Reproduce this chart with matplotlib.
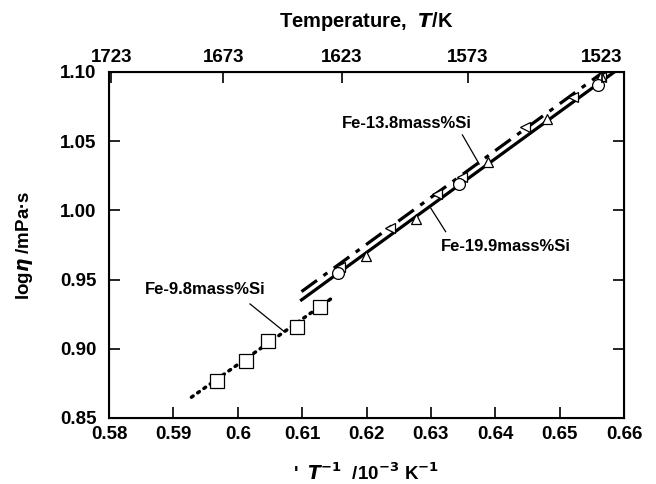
import numpy as np
import matplotlib.pyplot as plt

plt.rcParams['font.family'] = ['Liberation Sans', 'DejaVu Sans']
plt.rcParams['font.weight'] = 'bold'

# Fe-9.8mass%Si (squares, dotted fit)
x98 = [0.5967, 0.6013, 0.6047, 0.6092, 0.6128]
y98 = [0.877, 0.8914, 0.9057, 0.916, 0.930]
fit98_x = [0.5928, 0.6146]
fit98_y = [0.865, 0.9365]

# Fe-13.8mass%Si (left triangles, dash-dot fit)
x138 = [0.6159, 0.6237, 0.6309, 0.6348, 0.6446, 0.6521, 0.6565]
y138 = [0.9593, 0.987, 1.0118, 1.0243, 1.060, 1.0817, 1.0962]
fit138_x = [0.6099, 0.6568]
fit138_y = [0.9413, 1.100]

# Fe-19.9mass%Si (circles + up triangles, solid fit)
xc = [0.6155, 0.6344, 0.6559]
yc = [0.9546, 1.019, 1.0906]
xt = [0.6199, 0.6277, 0.6388, 0.6480, 0.6565]
yt = [0.967, 0.9938, 1.0348, 1.066, 1.0971]
fit199_x = [0.6099, 0.6585]
fit199_y = [0.9353, 1.100]

temps = [1723, 1673, 1623, 1573, 1523]

fig = plt.figure(figsize=(6.56, 4.84), dpi=100)
ax = fig.add_axes([0.1662, 0.1364, 0.785, 0.7149])

ax.plot(fit98_x, fit98_y, color='black', lw=2.5, ls=(0, (0.6, 1.6)), dash_capstyle='round')
ax.plot(fit138_x, fit138_y, color='black', lw=2.3, ls=(0, (6, 2.5, 1.5, 2.5)))
ax.plot(fit199_x, fit199_y, color='black', lw=2.3, ls='-')

ax.plot(x98, y98, ls='none', marker='s', ms=9.5, mfc='white', mec='black', mew=0.9)
ax.plot(x138, y138, ls='none', marker='<', ms=7.5, mfc='white', mec='black', mew=0.9)
ax.plot(xt, yt, ls='none', marker='^', ms=7.5, mfc='white', mec='black', mew=0.9)
ax.plot(xc, yc, ls='none', marker='o', ms=8.5, mfc='white', mec='black', mew=0.9)

ax.set_xlim(0.58, 0.66)
ax.set_ylim(0.85, 1.10)
ax.set_xticks(np.arange(0.58, 0.6601, 0.01))
ax.set_xticklabels(['0.58', '0.59', '0.6', '0.61', '0.62', '0.63', '0.64', '0.65', '0.66'])
ax.set_yticks(np.arange(0.85, 1.1001, 0.05))
ax.set_yticklabels(['0.85', '0.90', '0.95', '1.00', '1.05', '1.10'])
ax.tick_params(axis='both', direction='in', length=8, width=1.2, labelsize=13.5, right=True)
ax.tick_params(axis='x', pad=6)
ax.tick_params(axis='y', pad=9)
for s in ax.spines.values():
    s.set_linewidth(1.5)

ax2 = ax.twiny()
ax2.set_xlim(ax.get_xlim())
ax2.set_xticks([1000.0 / t for t in temps])
ax2.set_xticklabels([str(t) for t in temps])
ax2.tick_params(axis='x', direction='in', length=8, width=1.2, labelsize=13.5, pad=4)
ax2.set_xlabel('Temperature,  $\\boldsymbol{T}$/K', fontsize=14.5, fontweight='bold', labelpad=16)

ax.set_ylabel('log$\\boldsymbol{\\eta}$ /mPa·s', fontsize=13.5, fontweight='bold', labelpad=18)
ax.set_xlabel("'  $\\boldsymbol{T}^{\\mathbf{-1}}$  /10$^{\\mathbf{-3}}$ K$^{\\mathbf{-1}}$",
              fontsize=13.5, fontweight='bold', labelpad=14)

ax.text(0.5949, 0.943, 'Fe-9.8mass%Si', fontsize=12, fontweight='bold', ha='center', va='center')
ax.plot([0.6019, 0.6072], [0.9324, 0.9125], color='black', lw=0.9)
ax.text(0.6263, 1.063, 'Fe-13.8mass%Si', fontsize=12, fontweight='bold', ha='center', va='center')
ax.plot([0.6349, 0.6375], [1.0545, 1.0335], color='black', lw=0.9)
ax.text(0.6416, 0.9738, 'Fe-19.9mass%Si', fontsize=12, fontweight='bold', ha='center', va='center')
ax.plot([0.6300, 0.6323], [1.0015, 0.9846], color='black', lw=0.9)

fig.savefig('out.png', dpi=100)
